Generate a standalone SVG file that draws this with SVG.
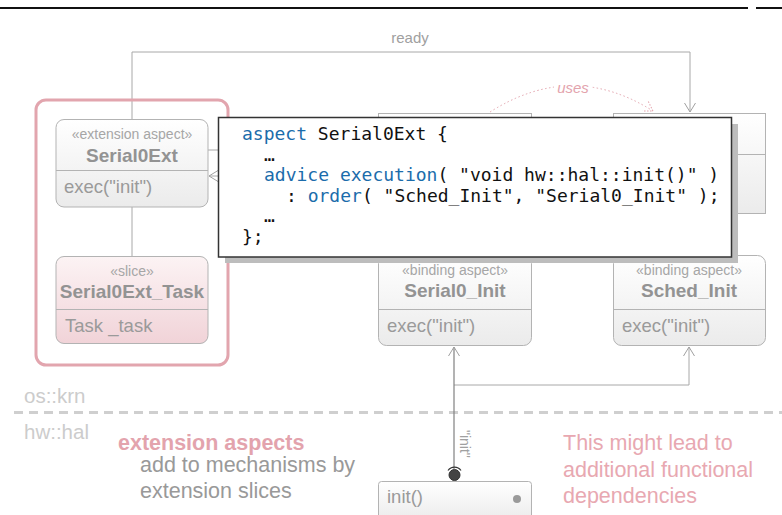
<svg xmlns="http://www.w3.org/2000/svg" width="782" height="515" viewBox="0 0 782 515">
<style>
.box{stroke:#b3b3b3;stroke-width:1;fill:url(#g)}
.slice{stroke:#b3b3b3;stroke-width:1;fill:url(#gp)}
.div{stroke:#b3b3b3;stroke-width:1}
.st{font-family:"Liberation Sans",Arial,sans-serif;font-size:14px;fill:#a6a6a6;text-anchor:middle}
.nm{font-family:"Liberation Sans",Arial,sans-serif;font-size:19px;font-weight:bold;fill:#939393;text-anchor:middle}
.op{font-family:"Liberation Sans",Arial,sans-serif;font-size:18.5px;fill:#9a9a9a}
.con{fill:none;stroke:#a8a8a8;stroke-width:1}
.code{font-family:"DejaVu Sans Mono",monospace;font-size:18px;fill:#111}
.kw{fill:#1b6cab}
.lbl{font-family:"Liberation Sans",Arial,sans-serif;font-size:15px;fill:#a0a0a0}
.ann{font-family:"Liberation Sans",Arial,sans-serif;font-size:21.5px}
</style>
<defs>
<linearGradient id="g" x1="0" y1="0" x2="0" y2="1"><stop offset="0" stop-color="#ffffff"/><stop offset="1" stop-color="#ebebeb"/></linearGradient>
<linearGradient id="gp" x1="0" y1="0" x2="0" y2="1"><stop offset="0" stop-color="#fcf3f4"/><stop offset="1" stop-color="#f1d3d8"/></linearGradient>
<marker id="arr" markerUnits="userSpaceOnUse" markerWidth="16" markerHeight="16" refX="10" refY="6" orient="auto"><path d="M1,0.5 L10,6 L1,11.5" fill="none" stroke="#a0a0a0" stroke-width="1"/></marker>
<marker id="arrp" markerUnits="userSpaceOnUse" markerWidth="16" markerHeight="16" refX="10" refY="6" orient="auto"><path d="M1,0.5 L10,6 L1,11.5" fill="none" stroke="#e3a3ad" stroke-width="1" stroke-dasharray="1.5,1.5"/></marker>
</defs>
<rect width="782" height="515" fill="#ffffff"/>
<g id="topbar"><line x1="0" y1="8" x2="748" y2="8" stroke="#111" stroke-width="2"/><line x1="756" y1="8" x2="782" y2="8" stroke="#111" stroke-width="2"/></g>

<g id="layers">
<line x1="14" y1="412.5" x2="782" y2="412.5" stroke="#cfcfcf" stroke-width="3" stroke-dasharray="9,6"/>
<text x="24" y="403" class="ann" style="font-size:20.5px" fill="#cccccc">os::krn</text>
<text x="24" y="439" class="ann" style="font-size:20.5px" fill="#cccccc">hw::hal</text>
</g>

<g id="connectors">
<polyline class="con" points="132,119 132,52 690,52 690,112" marker-end="url(#arr)"/>
<text x="410" y="43" class="lbl" text-anchor="middle">ready</text>
<path d="M490,112 Q572,60 653,111" fill="none" stroke="#e3a3ad" stroke-width="1" stroke-dasharray="1.5,2.5" marker-end="url(#arrp)"/>
<rect x="554" y="80" width="37" height="16" fill="#ffffff"/>
<text x="573" y="93" class="lbl" text-anchor="middle" fill="#e3a3ad" font-style="italic" style="fill:#e3a3ad">uses</text>
<line class="con" x1="132" y1="207" x2="132" y2="256"/>
<line class="con" x1="208" y1="150" x2="220" y2="150"/>
<line class="con" x1="220" y1="176" x2="209" y2="176" marker-end="url(#arr)"/>
<polyline class="con" points="454,385 689,385 689,347" marker-end="url(#arr)"/>
<line x1="454" y1="469" x2="454" y2="347" stroke="#808080" stroke-width="1.2" marker-end="url(#arr)"/>
<text transform="translate(460,430) rotate(90)" class="lbl" style="font-size:14px">"init"</text>
</g>

<g id="container">
<rect x="36" y="100" width="192" height="265" rx="10" fill="none" stroke="#e2a5ae" stroke-width="3"/>
</g>

<g id="Serial0Ext">
<rect class="box" x="56" y="119.5" width="152" height="87.5" rx="8"/>
<line class="div" x1="56" y1="170.5" x2="208" y2="170.5"/>
<text x="132" y="139" class="st">«extension aspect»</text>
<text x="132" y="162" class="nm">Serial0Ext</text>
<text x="64" y="193" class="op">exec("init")</text>
</g>

<g id="Serial0Ext_Task">
<rect class="slice" x="56" y="256.5" width="152" height="87" rx="8"/>
<line class="div" x1="56" y1="309.5" x2="208" y2="309.5"/>
<text x="132" y="276" class="st">«slice»</text>
<text x="132" y="298" class="nm">Serial0Ext_Task</text>
<text x="65" y="332" class="op">Task _task</text>
</g>

<g id="hiddenLeft">
<rect class="box" x="378.5" y="113.5" width="153" height="100"/>
</g>
<g id="hiddenRight">
<rect class="box" x="613.5" y="113.5" width="152" height="100"/>
<line class="div" x1="613.5" y1="154.5" x2="765.5" y2="154.5"/>
</g>

<g id="Serial0_Init">
<rect class="box" x="378.5" y="255.5" width="153" height="90" rx="8"/>
<line class="div" x1="378.5" y1="309.5" x2="531.5" y2="309.5"/>
<text x="455" y="275" class="st">«binding aspect»</text>
<text x="455" y="297" class="nm">Serial0_Init</text>
<text x="387" y="332" class="op">exec("init")</text>
</g>

<g id="Sched_Init">
<rect class="box" x="613.5" y="255.5" width="152" height="90" rx="8"/>
<line class="div" x1="613.5" y1="309.5" x2="765.5" y2="309.5"/>
<text x="689" y="275" class="st">«binding aspect»</text>
<text x="689" y="297" class="nm">Sched_Init</text>
<text x="622" y="332" class="op">exec("init")</text>
</g>

<g id="code">
<rect x="225" y="124" width="513" height="139" fill="#bdbdbd"/>
<rect x="218.5" y="117.5" width="513" height="139.5" fill="#ffffff" stroke="#333" stroke-width="1.5"/>
<text class="code" x="242" y="140"><tspan class="kw">aspect</tspan> Serial0Ext {</text>
<text class="code" x="264" y="160.5">…</text>
<text class="code" x="264" y="181"><tspan class="kw">advice</tspan> <tspan class="kw">execution</tspan>( "void hw::hal::init()" )</text>
<text class="code" x="286" y="201.5">: <tspan class="kw">order</tspan>( "Sched_Init", "Serial0_Init" );</text>
<text class="code" x="264" y="222">…</text>
<text class="code" x="242" y="242.5">};</text>
</g>

<g id="init">
<rect class="box" x="378.5" y="481.5" width="153" height="40" rx="3"/>
<text x="387" y="503" class="op">init()</text>
<circle cx="517" cy="499" r="4" fill="#9a9a9a"/>
<circle cx="454.5" cy="475" r="5.5" fill="#444" stroke="#333" stroke-width="1"/>
<path d="M448,470.5 A8,8 0 0 1 461,470.5" fill="none" stroke="#333" stroke-width="1.2"/>
</g>

<g id="notes">
<text x="118" y="450" class="ann" font-weight="bold" fill="#e3a3ad">extension aspects</text>
<text x="140" y="472" class="ann" fill="#999999">add to mechanisms by</text>
<text x="140" y="498" class="ann" fill="#999999">extension slices</text>
<text x="563" y="450" class="ann" fill="#e8a8b1">This might lead to</text>
<text x="563" y="477" class="ann" fill="#e8a8b1">additional functional</text>
<text x="563" y="503" class="ann" fill="#e8a8b1">dependencies</text>
</g>
</svg>
